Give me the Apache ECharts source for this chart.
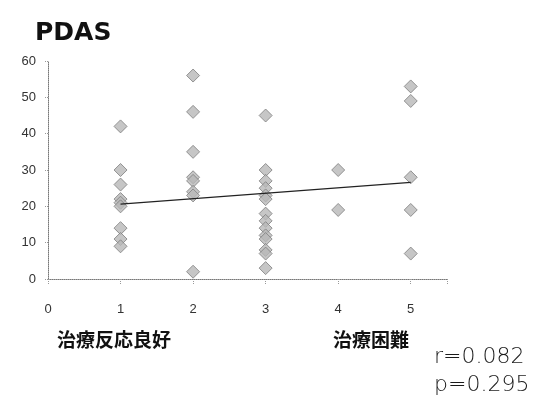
<!DOCTYPE html>
<html>
<head>
<meta charset="utf-8">
<script src="https://cdn.jsdelivr.net/npm/echarts@6/dist/echarts.min.js"></script>
<style>
html,body{margin:0;padding:0;background:#fff;}
#c{width:540px;height:405px;}
</style>
</head>
<body>
<div id="c"></div>
<script>
// Data
const groupX = [1, 2, 3, 4, 5];
const valuesAt1 = [42, 30, 26, 22, 21, 20, 14, 11, 9];
const valuesAt2 = [56, 46, 35, 28, 27, 24, 23, 2];
const valuesAt3 = [45, 30, 27, 25, 23, 22, 18, 16, 14, 12, 11, 8, 7, 3];
const valuesAt4 = [30, 19];
const valuesAt5 = [53, 49, 28, 19, 7];
const trendX = [1, 5];
const trendY = [20.6, 26.6];
const titleText = 'PDAS';
const leftNote = '治療反応良好';
const rightNote = '治療困難';
const statLines = ['r=0.082', 'p=0.295'];

const groups = [valuesAt1, valuesAt2, valuesAt3, valuesAt4, valuesAt5];
const points = [];
groups.forEach((vals, i) => vals.forEach(v => points.push([groupX[i], v])));
const trend = trendX.map((x, i) => [x, trendY[i]]);

const chart = echarts.init(document.getElementById('c'));
chart.setOption({
  animation: false,
  backgroundColor: '#fff',
  title: {
    text: titleText,
    left: 30, top: 16,
    textStyle: {fontFamily: 'DejaVu Sans', fontWeight: 'bold', fontSize: 25, color: '#111'}
  },
  grid: {left: 48, right: 93, top: 61, bottom: 126, containLabel: false},
  xAxis: {
    type: 'value', min: 0, max: 5.5, interval: 1,
    axisLine: {show: true, lineStyle: {color: '#777', type: 'dotted', width: 1}},
    axisTick: {show: true, length: 5, lineStyle: {color: '#999', type: 'dotted'}},
    splitLine: {show: false},
    axisLabel: {
      margin: 24, color: '#333', fontSize: 13, fontFamily: 'Liberation Sans',
      formatter: v => (v % 1 === 0 ? String(v) : '')
    }
  },
  yAxis: {
    type: 'value', min: 0, max: 60, interval: 10,
    axisLine: {show: true, lineStyle: {color: '#777', type: 'dotted', width: 1}},
    axisTick: {show: true, length: 3, lineStyle: {color: '#999', type: 'dotted'}},
    splitLine: {show: false},
    axisLabel: {margin: 12, color: '#333', fontSize: 13, fontFamily: 'Liberation Sans'}
  },
  series: [
    {
      type: 'scatter', data: points, symbol: 'diamond', symbolSize: [13, 13],
      itemStyle: {color: '#b8b8b8', borderColor: '#7e7e7e', borderWidth: 1},
      z: 2
    },
    {
      type: 'line', data: trend, symbol: 'none',
      lineStyle: {color: '#222', width: 1.2},
      z: 3
    }
  ],
  graphic: [
    {type: 'text', left: 57, top: 330,
      style: {text: leftNote, font: 'bold 19px "Noto Sans CJK JP"', fill: '#111'}},
    {type: 'text', left: 333, top: 330,
      style: {text: rightNote, font: 'bold 19px "Noto Sans CJK JP"', fill: '#111'}},
    {type: 'text', left: 434, top: 346,
      style: {text: statLines[0], font: '200 22px "DejaVu Sans"', fill: '#1a1a1a'}},
    {type: 'text', left: 434, top: 374,
      style: {text: statLines[1], font: '200 22px "DejaVu Sans"', fill: '#1a1a1a'}}
  ]
});
</script>
</body>
</html>
